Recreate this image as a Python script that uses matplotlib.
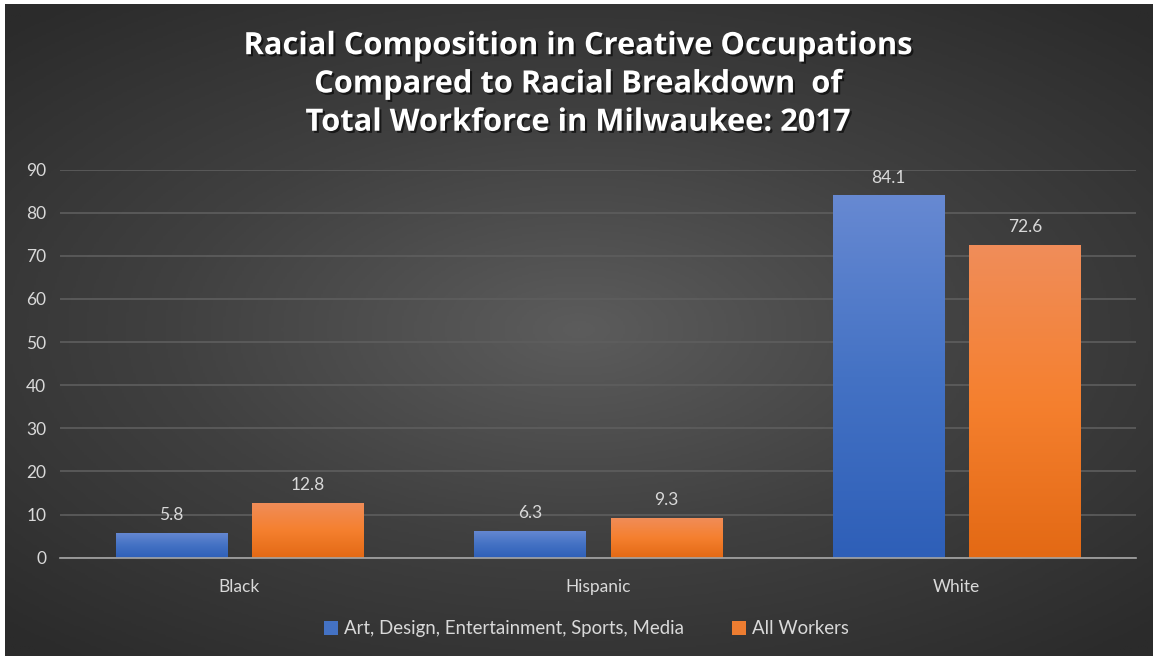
import matplotlib.pyplot as plt
import matplotlib.patheffects as pe
from matplotlib.colors import LinearSegmentedColormap
from matplotlib.patches import Patch
import numpy as np

categories = ["Black", "Hispanic", "White"]
creative = [5.8, 6.3, 84.1]
all_workers = [12.8, 9.3, 72.6]
series_names = ["Art, Design, Entertainment, Sports, Media", "All Workers"]
title = ("Racial Composition in Creative Occupations\n"
         "Compared to Racial Breakdown  of\n"
         "Total Workforce in Milwaukee: 2017")

plt.rcParams['font.family'] = ['Lato', 'DejaVu Sans']

fig = plt.figure(figsize=(11.57, 6.6), dpi=100)
fig.patch.set_facecolor("white")

# radial dark background
bg = fig.add_axes([0.004, 0.006, 0.992, 0.988])
yy, xx = np.mgrid[-1:1:300j, -1:1:500j]
r = np.sqrt((xx * 0.9) ** 2 + (yy * 1.0) ** 2)
bg_cmap = LinearSegmentedColormap.from_list("bg", ["#5c5c5c", "#404040", "#2b2b2b"])
bg.imshow(r, cmap=bg_cmap, aspect="auto", vmin=0, vmax=1.3)
bg.set_axis_off()

ax = fig.add_axes([0.052, 0.155, 0.93, 0.588])
ax.patch.set_alpha(0)

x = np.arange(len(categories))
width = 0.31
offset = 0.19

blue_cmap = LinearSegmentedColormap.from_list("b", ["#2e5fb8", "#4472c4", "#6789d2"])
orange_cmap = LinearSegmentedColormap.from_list("o", ["#e36914", "#f5802f", "#f08d5a"])

grad = np.linspace(0, 1, 256).reshape(-1, 1)


def gradient_bars(bars, cmap):
    for b in bars:
        x0, y0 = b.get_x(), b.get_y()
        w, h = b.get_width(), b.get_height()
        im = ax.imshow(grad, cmap=cmap, origin="lower", aspect="auto",
                       extent=[x0, x0 + w, y0, y0 + h], zorder=3)
        im.set_clip_path(b)
        b.set_facecolor("none")


bars1 = ax.bar(x - offset, creative, width, color="#4472c4", zorder=2,
               linewidth=0)
bars2 = ax.bar(x + offset, all_workers, width, color="#ed7d31", zorder=2,
               linewidth=0)
gradient_bars(bars1, blue_cmap)
gradient_bars(bars2, orange_cmap)

for bars, vals in [(bars1, creative), (bars2, all_workers)]:
    for b, v in zip(bars, vals):
        ax.text(b.get_x() + b.get_width() / 2, v + 2.2, f"{v}",
                ha="center", va="bottom", color="#d9d9d9", fontsize=12.5)

ax.set_xlim(-0.5, 2.5)
ax.set_ylim(0, 90)
ax.set_yticks(range(0, 91, 10))
ax.set_xticks(x)
ax.set_xticklabels(categories)
ax.tick_params(colors="#d9d9d9", labelsize=12.5, length=0)
ax.tick_params(axis="y", pad=10)
ax.tick_params(axis="x", pad=15)
ax.yaxis.grid(True, color="#5e5e5e", linewidth=1.2, zorder=0)
ax.set_axisbelow(True)
for s in ["top", "right", "left"]:
    ax.spines[s].set_visible(False)
ax.spines["bottom"].set_color("#a6a6a6")
ax.spines["bottom"].set_linewidth(1.2)
ax.spines["bottom"].set_zorder(4)

fig.text(0.5, 0.872, title, ha="center", va="center", color="white",
         fontsize=22.2, fontweight="bold", linespacing=1.36,
         family=["Open Sans", "DejaVu Sans"],
         path_effects=[pe.withSimplePatchShadow(offset=(1.5, -1.5),
                                                shadow_rgbFace="black",
                                                alpha=0.6)])

handles = [Patch(facecolor="#4472c4"), Patch(facecolor="#ed7d31")]
leg = fig.legend(handles, series_names, loc="center", ncol=2,
                 bbox_to_anchor=(0.507, 0.047), frameon=False,
                 fontsize=13.4, handlelength=0.75, handleheight=0.75,
                 handletextpad=0.3, columnspacing=2.6)
for t in leg.get_texts():
    t.set_color("#d9d9d9")

fig.savefig("out.png", dpi=100, facecolor=fig.get_facecolor())
